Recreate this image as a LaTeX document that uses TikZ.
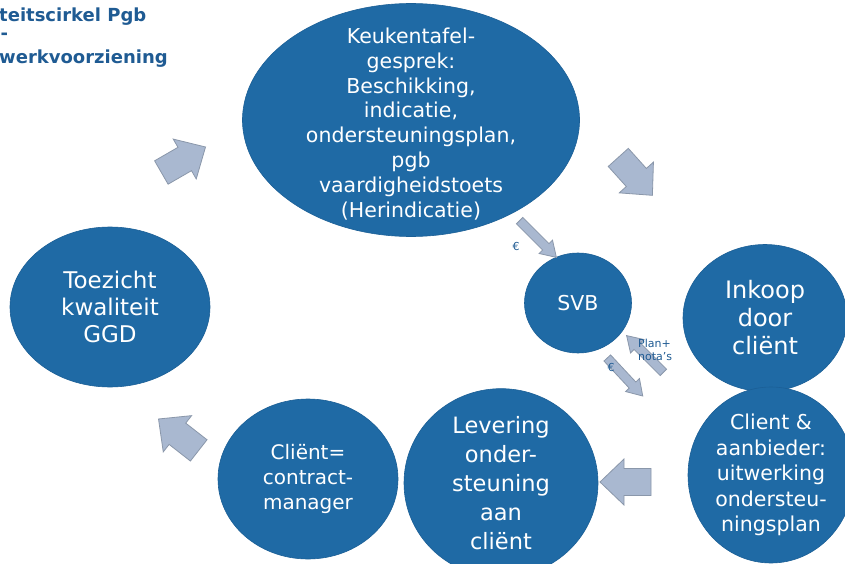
\documentclass[tikz,border=0pt]{standalone}
\usepackage{fontspec}
\setmainfont{DejaVu Sans}
\usetikzlibrary{shapes.geometric}

\definecolor{bubbleFill}{HTML}{1F6AA5}
\definecolor{bubbleLine}{HTML}{1B5F96}
\definecolor{arrowFill}{HTML}{A9B8D0}
\definecolor{arrowLine}{HTML}{8A97AA}
\definecolor{titleBlue}{HTML}{1F5B93}

\tikzset{
  bubble/.style={ellipse, fill=bubbleFill, draw=bubbleLine, line width=0.6pt,
    text=white, align=center, inner sep=0pt},
  bubbletext/.style={text=white, align=center, inner sep=0pt},
  titletext/.style={anchor=west, text=titleBlue, inner sep=0pt,
    font=\bfseries\fontsize{18}{21}\selectfont},
  arrowbody/.style={fill=arrowFill, draw=arrowLine, line width=0.8pt, line join=miter},
  smalllabel/.style={text=titleBlue, font=\fontsize{11}{12.5}\selectfont, inner sep=0pt},
  pics/bigarrow/.style={code={
    \draw[arrowbody] (-25,-13.5) -- (2,-13.5) -- (2,-23) -- (26,0) -- (2,23)
      -- (2,13.5) -- (-25,13.5) -- cycle;}},
  pics/thinarrow/.style={code={
    \draw[arrowbody] (-26,-4.5) -- (11,-4.5) -- (11,-9.5) -- (26,0) -- (11,9.5)
      -- (11,4.5) -- (-26,4.5) -- cycle;}}
}

\begin{document}
\begin{tikzpicture}[x=1pt,y=-1pt]
\useasboundingbox (0,0) rectangle (845,564);
\clip (0,0) rectangle (845,564);
\fill[white] (0,0) rectangle (845,564);

% title, cut off at the left
\node[titletext] (title1) at (-1,17) {teitscirkel Pgb};
\node[titletext] (title2) at (0.5,36) {-};
\node[titletext] (title3) at (-1,59) {werkvoorziening};

% the circle
\node[bubble, minimum width=337, minimum height=233] (keuken) at (411,120) {};
\node[bubbletext, font=\fontsize{20.5}{24.9}\selectfont] (keukentekst)
  at ([yshift=-4]keuken.center) {Keukentafel-\\gesprek:\\Beschikking,\\indicatie,\\ondersteuningsplan,\\pgb\\vaardigheidstoets\\(Herindicatie)};
\node[bubble, minimum width=107, minimum height=100, font=\fontsize{20.5}{24}\selectfont]
  (svb) at (578,303) {SVB};
\node[bubble, minimum width=164, minimum height=147, font=\fontsize{24}{28}\selectfont]
  (inkoop) at (765,318) {Inkoop\\door\\cliënt};
\node[bubble, minimum width=166, minimum height=176, font=\fontsize{20.5}{25.5}\selectfont]
  (uitwerking) at (771,475) {Client \&\\aanbieder:\\uitwerking\\ondersteu-\\ningsplan};
\node[bubble, minimum width=194, minimum height=180, font=\fontsize{22.5}{29}\selectfont]
  (levering) at (501,483) {Levering\\onder-\\steuning\\aan\\cliënt};
\node[bubble, minimum width=180, minimum height=160, font=\fontsize{20}{25}\selectfont]
  (manager) at (308,479) {Cliënt=\\contract-\\manager};
\node[bubble, minimum width=200, minimum height=160, font=\fontsize{23}{27}\selectfont]
  (toezicht) at (110,307) {Toezicht\\kwaliteit\\GGD};

% big arrows round the circle
\pic[rotate=30] (pijlA) at (183,160) {bigarrow};
\pic[rotate=-48] (pijlB) at (635,176) {bigarrow};
\pic[rotate=180] (pijlC) at (626,482) {bigarrow};
\pic[rotate=142] (pijlD) at (179,435) {bigarrow};

% money and plans via SVB
\pic[rotate=-45] (geldIn) at (538,239) {thinarrow};
\pic[rotate=135] (planIn) at (645,354) {thinarrow};
\pic[rotate=-47] (geldUit) at (625,377) {thinarrow};
\node[smalllabel] (euro1) at (516,246) {€};
\node[smalllabel] (euro2) at (611,367) {€};
\node[smalllabel, align=left, anchor=west] (plannota) at (638,350) {Plan+\\nota's};
\end{tikzpicture}
\end{document}
